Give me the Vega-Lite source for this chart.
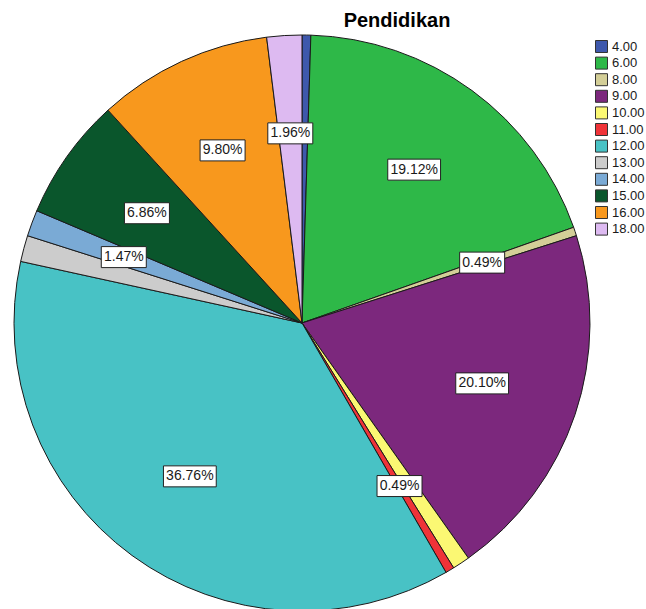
{
  "$schema": "https://vega.github.io/schema/vega-lite/v6.json",
  "autosize": "none",
  "padding": {"left": 0, "top": 40, "right": 42, "bottom": 5},
  "width": 604,
  "height": 566,
  "background": "white",
  "title": {
    "text": "Pendidikan",
    "anchor": "middle",
    "frame": "group",
    "dx": 95,
    "dy": 26,
    "offset": 14,
    "baseline": "alphabetic",
    "font": "Liberation Sans",
    "fontSize": 20,
    "fontWeight": "bold",
    "color": "#000000"
  },
  "data": {
    "values": [
      {"cat": "4.00", "edu": 4, "n": 1, "label": ""},
      {"cat": "6.00", "edu": 6, "n": 39, "label": "19.12%"},
      {"cat": "8.00", "edu": 8, "n": 1, "label": "0.49%"},
      {"cat": "9.00", "edu": 9, "n": 41, "label": "20.10%"},
      {"cat": "10.00", "edu": 10, "n": 2, "label": ""},
      {"cat": "11.00", "edu": 11, "n": 1, "label": "0.49%"},
      {"cat": "12.00", "edu": 12, "n": 75, "label": "36.76%"},
      {"cat": "13.00", "edu": 13, "n": 3, "label": ""},
      {"cat": "14.00", "edu": 14, "n": 3, "label": "1.47%"},
      {"cat": "15.00", "edu": 15, "n": 14, "label": "6.86%"},
      {"cat": "16.00", "edu": 16, "n": 20, "label": "9.80%"},
      {"cat": "18.00", "edu": 18, "n": 4, "label": "1.96%"}
    ]
  },
  "layer": [
    {
      "mark": {"type": "arc", "outerRadius": 288, "stroke": "#1a1a1a", "strokeWidth": 1, "strokeJoin": "round"},
      "encoding": {
        "theta": {"field": "n", "type": "quantitative", "stack": true},
        "order": {"field": "edu", "type": "quantitative", "sort": "ascending"},
        "color": {
          "field": "cat",
          "type": "nominal",
          "sort": null,
          "scale": {
            "domain": ["4.00", "6.00", "8.00", "9.00", "10.00", "11.00", "12.00", "13.00", "14.00", "15.00", "16.00", "18.00"],
            "range": ["#3E58AC", "#2EB848", "#D3CE97", "#7C287D", "#FBF873", "#EF3338", "#48C2C5", "#CCCCCC", "#7AAAD5", "#0A562C", "#F8981D", "#DDBAF1"]
          },
          "legend": {
            "title": null,
            "orient": "none",
            "legendX": 595,
            "legendY": 0,
            "padding": 0,
            "symbolType": "square",
            "symbolSize": 144,
            "symbolStrokeColor": "#333333",
            "symbolStrokeWidth": 1,
            "symbolOpacity": 1,
            "labelFont": "Liberation Sans",
            "labelFontSize": 13,
            "labelColor": "#1a1a1a",
            "labelOffset": 4,
            "rowPadding": -0.4
          }
        }
      }
    },
    {
      "transform": [
        {"joinaggregate": [{"op": "sum", "field": "n", "as": "total"}]},
        {"window": [{"op": "sum", "field": "n", "as": "cum"}], "sort": [{"field": "edu", "order": "ascending"}], "frame": [null, 0]},
        {"filter": "datum.label != ''"},
        {"calculate": "2*PI*(datum.cum - datum.n/2)/datum.total", "as": "ang"},
        {"calculate": "190*sin(datum.ang)", "as": "lx"},
        {"calculate": "190*cos(datum.ang)", "as": "ly"},
        {"calculate": "7.8*length(datum.label)+6", "as": "bw"},
        {"calculate": "datum.lx - datum.bw/2", "as": "bx1"},
        {"calculate": "datum.lx + datum.bw/2", "as": "bx2"},
        {"calculate": "datum.ly - 10.5", "as": "by1"},
        {"calculate": "datum.ly + 10.5", "as": "by2"}
      ],
      "layer": [
        {
          "mark": {"type": "rect", "fill": "white", "stroke": "#222222", "strokeWidth": 1},
          "encoding": {
            "x": {"field": "bx1", "type": "quantitative", "scale": {"domain": [-302, 302], "nice": false, "zero": false}, "axis": null},
            "x2": {"field": "bx2"},
            "y": {"field": "by1", "type": "quantitative", "scale": {"domain": [-283, 283], "nice": false, "zero": false}, "axis": null},
            "y2": {"field": "by2"}
          }
        },
        {
          "mark": {"type": "text", "font": "Liberation Sans", "fontSize": 14, "color": "#1a1a1a", "align": "center", "baseline": "middle"},
          "encoding": {
            "x": {"field": "lx", "type": "quantitative"},
            "y": {"field": "ly", "type": "quantitative"},
            "text": {"field": "label"}
          }
        }
      ]
    }
  ],
  "config": {"view": {"stroke": null}}
}
